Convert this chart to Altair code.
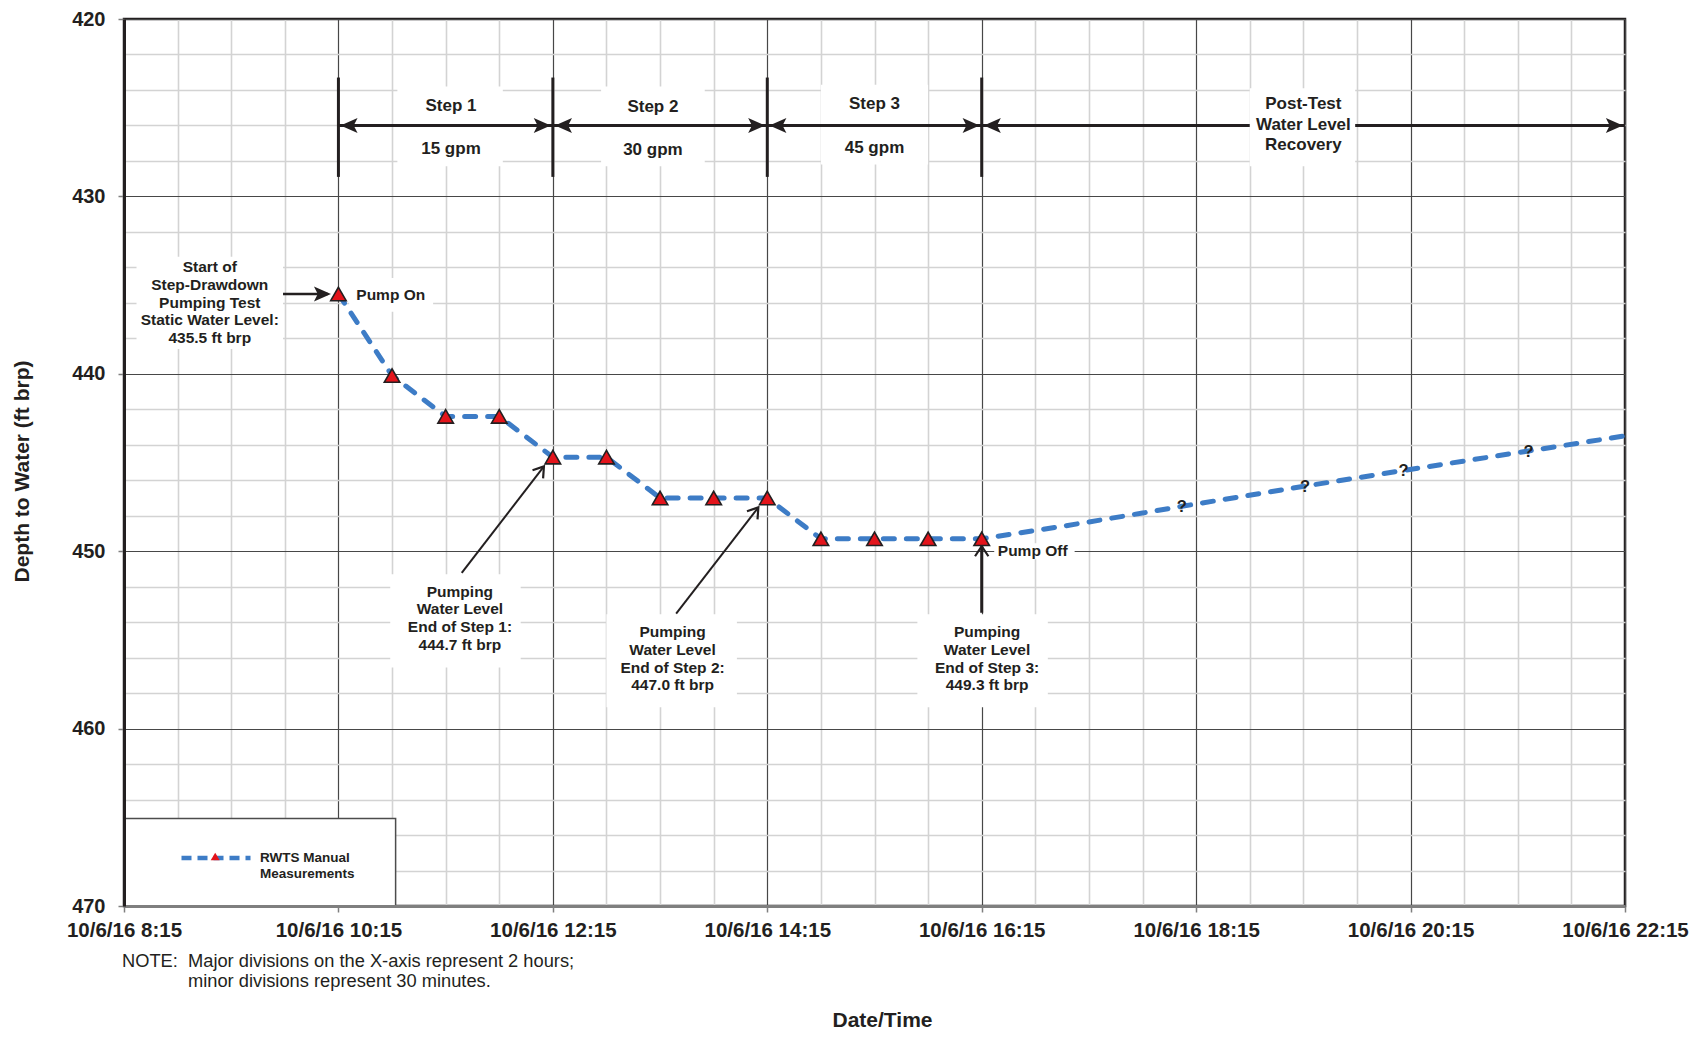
import altair as alt
import pandas as pd

DAY = "2016-10-06"
INK = "#231f20"
BLUE = "#3d7cc6"
RED = "#e3141b"
FONT = "Liberation Sans"

# ---------------- data ----------------
meas_times = ["10:15", "10:45", "11:15", "11:45", "12:15", "12:45", "13:15",
              "13:45", "14:15", "14:45", "15:15", "15:45", "16:15"]
meas_depth = [435.5, 440.1, 442.4, 442.4, 444.7, 444.7, 447.0,
              447.0, 447.0, 449.3, 449.3, 449.3, 449.3]
rec_times = ["17:00", "17:45", "18:07", "19:16", "20:11", "21:21", "22:15"]
rec_depth = [448.6, 447.85, 447.47, 446.33, 445.45, 444.35, 443.5]
q_times = ["18:07", "19:16", "20:11", "21:21"]
q_depth = [447.47, 446.33, 445.45, 444.35]
series_name = "RWTS Manual Measurements"

x_major = ["8:15", "10:15", "12:15", "14:15", "16:15", "18:15", "20:15", "22:15"]
x_minor = ["8:45", "9:15", "9:45", "10:45", "11:15", "11:45", "12:45", "13:15",
           "13:45", "14:45", "15:15", "15:45", "16:45", "17:15", "17:45", "18:45",
           "19:15", "19:45", "20:45", "21:15", "21:45"]
y_major = [420, 430, 440, 450, 460, 470]
y_minor = [422, 424, 426, 428, 432, 434, 436, 438, 442, 444, 446, 448,
           452, 454, 456, 458, 462, 464, 466, 468]

# step annotations
bar_times = ["10:15", "12:15", "14:15", "16:15"]
bar_top, bar_bottom = 423.3, 428.9
span_start = ["10:15", "12:15", "14:15", "16:15"]
span_end = ["12:15", "14:15", "16:15", "22:15"]
span_depth = 426.0
step_text = ["Step 1", "15 gpm", "Step 2", "30 gpm", "Step 3", "45 gpm"]
step_text_time = ["11:18", "11:18", "13:11", "13:11", "15:15", "15:15"]
step_text_depth = [424.86, 427.25, 424.9, 427.3, 424.75, 427.2]
post_text = ["Post-Test\nWater Level\nRecovery"]
post_time = ["19:15"]
post_depth = [424.75]

callout_text = ["Start of\nStep-Drawdown\nPumping Test\nStatic Water Level:\n435.5 ft brp",
                "Pumping\nWater Level\nEnd of Step 1:\n444.7 ft brp",
                "Pumping\nWater Level\nEnd of Step 2:\n447.0 ft brp",
                "Pumping\nWater Level\nEnd of Step 3:\n449.3 ft brp"]
callout_time = ["9:03", "11:23", "13:22", "16:18"]
callout_depth = [433.97, 452.25, 454.54, 454.54]

side_text = ["Pump On", "Pump Off"]
side_time = ["10:25", "16:24"]
side_depth = [435.5, 449.95]

# white label boxes
box_t1 = ["8:22", "10:21", "10:48", "12:42", "14:45", "10:44", "12:45", "15:39", "16:22"]
box_t2 = ["9:44", "11:08", "11:47", "13:40", "15:45", "11:57", "13:58", "16:52", "17:07"]
box_d1 = [433.4, 434.6, 423.8, 423.8, 423.7, 451.3, 453.55, 453.55, 449.55]
box_d2 = [438.6, 436.5, 428.3, 428.3, 428.2, 456.55, 458.8, 458.8, 450.45]
post_box = (["18:45"], ["19:44"], [423.9], [428.3])
legend_box = (["8:15"], ["10:47"], [465.07], [470.0])

# pointer arrows
ptr_t1 = ["9:44", "11:24", "13:24", "16:15"]
ptr_d1 = [435.5, 451.22, 453.52, 453.47]
ptr_t2 = ["10:09", "12:10", "14:10", "16:15"]
ptr_d2 = [435.5, 445.22, 447.53, 449.72]
ptr_w = [2.5, 2.0, 2.0, 3.0]
vhead_t = ["12:10", "14:10", "16:15"]
vhead_d = [445.22, 447.53, 449.72]
vhead_a = [307.6, 307.6, 270]
fhead_t = ["12:15", "14:15", "16:15", "22:15", "10:15", "12:15", "14:15", "16:15", "10:12"]
fhead_d = [426.0] * 8 + [435.5]
fhead_a = [0, 0, 0, 0, 180, 180, 180, 180, 0]

note_label = "NOTE:"
note_lines = ["Major divisions on the X-axis represent 2 hours;",
              "minor divisions represent 30 minutes."]


def ts(hm):
    h, m = hm.split(":")
    return f"{DAY}T{int(h):02d}:{int(m):02d}:00"


def dt(hm):
    h, m = hm.split(":")
    return alt.DateTime(year=2016, month=10, date=6, hours=int(h), minutes=int(m))


def tdy(fs):
    # shift so that the data value sits at the cap-height centre of the first line
    return 0.358 * fs - round(0.79 * fs)


XS = alt.Scale(domain=[dt("8:15"), dt("22:15")], nice=False)
YS = alt.Scale(domain=[420, 470], reverse=True, nice=False, zero=False)


def grid_axis(orient, values, color, width):
    return alt.Axis(orient=orient, values=values, grid=True, gridColor=color,
                    gridWidth=width, labels=False, ticks=False, domain=False,
                    title=None, zindex=0)


xa_minor = grid_axis("bottom", [dt(v) for v in x_minor], "#d3d3d3", 1.6)
ya_minor = grid_axis("left", y_minor, "#d3d3d3", 1.6)
xa_major = grid_axis("bottom", [dt(v) for v in x_major], "#474747", 1.2)
ya_major = grid_axis("left", y_major, "#474747", 1.2)

xa_main = alt.Axis(orient="bottom", values=[dt(v) for v in x_major], grid=False,
                   domain=True, domainColor="#7f7f7f", domainWidth=3,
                   ticks=True, tickColor="#7f7f7f", tickSize=6, tickWidth=1.5,
                   format="%-m/%-d/%y %-H:%M", labelFont=FONT, labelFontSize=20.5,
                   labelFontWeight="bold", labelColor=INK, labelPadding=8,
                   labelFlush=False, labelOverlap=False, labelBound=False, labelAngle=0,
                   title="Date/Time", titleFont=FONT, titleFontSize=21,
                   titleFontWeight="bold", titleColor=INK, titleX=758, titleY=120.5,
                   titleBaseline="alphabetic", titleAlign="center", zindex=1)
ya_main = alt.Axis(orient="left", values=y_major, grid=False,
                   domain=True, domainColor=INK, domainWidth=3,
                   ticks=True, tickColor="#7f7f7f", tickSize=6, tickWidth=1.5,
                   labelFont=FONT, labelFontSize=20, labelFontWeight="bold",
                   labelColor=INK, labelPadding=13, labelOverlap=False, labelBound=False,
                   title="Depth to Water (ft brp)", titleFont=FONT, titleFontSize=21,
                   titleFontWeight="bold", titleColor=INK, titleAngle=270,
                   titleX=-102, titleY=452, titleAlign="center", titleBaseline="middle",
                   zindex=1)


def X(axis=None, field="t"):
    return alt.X(f"{field}:T", scale=XS, axis=axis)


def Y(axis=None, field="d"):
    return alt.Y(f"{field}:Q", scale=YS, axis=axis)


def rect_df(t1, t2, d1, d2):
    return pd.DataFrame({"t": [ts(v) for v in t1], "t2": [ts(v) for v in t2],
                         "d": d1, "d2": d2})


# ---------------- layers ----------------
legend_box_layer = alt.Chart(rect_df(*legend_box)).mark_rect(
    fill="white", stroke="#4d4d4d", strokeWidth=1.5
).encode(x=X(xa_minor), x2="t2:T", y=Y(ya_minor), y2="d2:Q")

boxes_layer = alt.Chart(rect_df(box_t1, box_t2, box_d1, box_d2)).mark_rect(
    fill="white", strokeWidth=0
).encode(x=X(), x2="t2:T", y=Y(), y2="d2:Q")

bars_df = pd.DataFrame({"t": [ts(v) for v in bar_times],
                        "d": [bar_top] * len(bar_times), "d2": [bar_bottom] * len(bar_times)})
bars_layer = alt.Chart(bars_df).mark_rule(color=INK, strokeWidth=3).encode(
    x=X(xa_major), y=Y(ya_major), y2="d2:Q")

span_df = pd.DataFrame({"t": [ts(v) for v in span_start], "t2": [ts(v) for v in span_end],
                        "d": [span_depth] * 4})
span_layer = alt.Chart(span_df).mark_rule(color=INK, strokeWidth=3).encode(
    x=X(), x2="t2:T", y=Y())

post_box_layer = alt.Chart(rect_df(*post_box)).mark_rect(fill="white", strokeWidth=0).encode(
    x=X(), x2="t2:T", y=Y(), y2="d2:Q")

FHEAD = "M-0.25,0 L-2.25,-0.88 L-1.8,0 L-2.25,0.88 Z"
VHEAD = "M-1.5,-1 L0,0 L-1.5,1"

fhead_df = pd.DataFrame({"t": [ts(v) for v in fhead_t], "d": fhead_d, "a": fhead_a})
fhead_layer = alt.Chart(fhead_df).mark_point(
    shape=FHEAD, filled=True, color=INK, size=289, opacity=1, strokeWidth=0
).encode(x=X(), y=Y(), angle=alt.Angle("a:Q", scale=None))

ptr_df = pd.DataFrame({"t": [ts(v) for v in ptr_t1], "t2": [ts(v) for v in ptr_t2],
                       "d": ptr_d1, "d2": ptr_d2, "w": ptr_w})
ptr_layer = alt.Chart(ptr_df).mark_rule(color=INK).encode(
    x=X(), x2="t2:T", y=Y(), y2="d2:Q", strokeWidth=alt.StrokeWidth("w:Q", scale=None))

vhead_df = pd.DataFrame({"t": [ts(v) for v in vhead_t], "d": vhead_d, "a": vhead_a})
vhead_layer = alt.Chart(vhead_df).mark_point(
    shape=VHEAD, filled=False, color=INK, size=178, opacity=1, strokeWidth=2.2
).encode(x=X(), y=Y(), angle=alt.Angle("a:Q", scale=None))

line_df = pd.DataFrame({"t": [ts(v) for v in meas_times + rec_times],
                        "d": meas_depth + rec_depth, "s": series_name})
line_layer = alt.Chart(line_df).mark_line(
    strokeWidth=5, strokeDash=[11, 12], strokeCap="round"
).encode(
    x=X(xa_main), y=Y(ya_main),
    color=alt.Color("s:N", scale=alt.Scale(range=[BLUE]), legend=alt.Legend(
        title=None, orient="none", legendX=55, legendY=802, padding=0,
        symbolType="stroke", symbolSize=4761, symbolStrokeWidth=4.5,
        symbolDash=[10, 6], labelOffset=7,
        labelExpr="['RWTS Manual', 'Measurements']",
        labelFont=FONT, labelFontSize=13.5, labelFontWeight="bold", labelColor=INK,
        labelBaseline="middle")))

pt_df = pd.DataFrame({"t": [ts(v) for v in meas_times], "d": meas_depth, "p": series_name})
pt_layer = alt.Chart(pt_df).mark_point(
    filled=True, fill=RED, stroke=INK, strokeWidth=1.6, size=240, opacity=1
).encode(
    x=X(), y=Y(),
    shape=alt.Shape("p:N", scale=alt.Scale(range=["triangle-up"]), legend=alt.Legend(
        title=None, orient="none", legendX=85.7, legendY=832, padding=0,
        symbolSize=80, symbolFillColor=RED, symbolStrokeColor=INK,
        symbolStrokeWidth=1.2, labelExpr="''")))


def text_layer(texts, times, depths, fs, align="center", lh=17.7):
    df = pd.DataFrame({"t": [ts(v) for v in times], "d": depths, "txt": texts})
    return alt.Chart(df).mark_text(
        font=FONT, fontSize=fs, fontWeight="bold", color=INK, align=align,
        baseline="top", dy=tdy(fs), lineBreak="\n", lineHeight=lh
    ).encode(x=X(), y=Y(), text="txt:N")


step_txt = text_layer(step_text, step_text_time, step_text_depth, 17)
post_txt = text_layer(post_text, post_time, post_depth, 17, lh=20.5)
callout_txt = text_layer(callout_text, callout_time, callout_depth, 15.5, lh=17.7)
side_txt = text_layer(side_text, side_time, side_depth, 15.5, align="left")
q_txt = text_layer(["?"] * len(q_times), q_times, q_depth, 16.5)


def note_layer(txt, px, py):
    return alt.Chart(pd.DataFrame({"txt": [txt]})).mark_text(
        font=FONT, fontSize=18.3, color=INK, align="left", baseline="middle"
    ).encode(x=alt.value(px), y=alt.value(py), text="txt:N")


notes = [note_layer(note_label, -2, 943),
         note_layer(note_lines[0], 64, 943),
         note_layer(note_lines[1], 64, 963)]

chart = alt.layer(
    legend_box_layer, boxes_layer, bars_layer, span_layer, post_box_layer,
    fhead_layer, ptr_layer, vhead_layer, line_layer, pt_layer,
    step_txt, post_txt, callout_txt, side_txt, q_txt, *notes
).resolve_axis(x="independent", y="independent").properties(
    width=1501, height=887,
    autosize=alt.AutoSizeParams(type="none"),
    padding={"left": 116, "top": 11, "right": 74, "bottom": 125},
    background="white",
).configure_view(stroke=INK, strokeWidth=2.5)

chart.save("out.html", embed_options={"renderer": "svg", "actions": False})
